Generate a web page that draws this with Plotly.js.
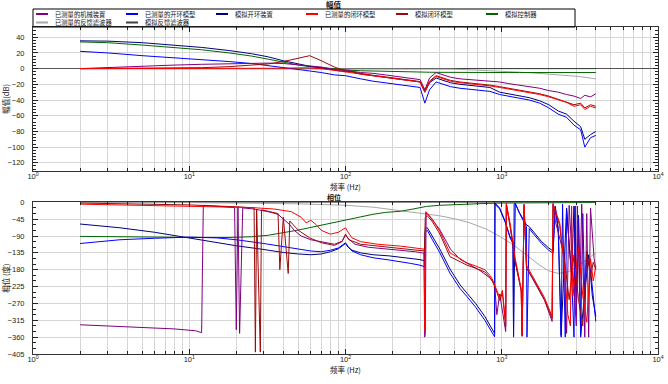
<!DOCTYPE html>
<html>
<head>
<meta charset="utf-8">
<script src="https://cdn.plot.ly/plotly-3.0.1.min.js"></script>
<style>
html,body{margin:0;padding:0;background:#fff;}
#chart{width:668px;height:384px;}
</style>
</head>
<body>
<div id="chart"></div>
<script>
// ---------- data ----------
const legendLabels = ["已测量的机械装置", "已测量的开环模型", "模拟开环装置", "已测量的闭环模型", "模拟闭环模型", "模拟控制器", "已测量的反馈滤波器", "模拟反馈滤波器"];
const seriesColors = ["#800080", "#0000ff", "#000080", "#ff0000", "#9b0a0a", "#006400", "#a8a8a8", "#404040"];
const magTitle = "幅值";
const phaseTitle = "相位";
const xTitle = "频率 (Hz)";
const magYTitle = "幅值(dB)";
const phaseYTitle = "相位 (度)";
const decadeTicks = [1, 10, 100, 1000, 10000];
const decadeTickText = ["10<sup>0</sup>", "10<sup>1</sup>", "10<sup>2</sup>", "10<sup>3</sup>", "10<sup>4</sup>"];
const magTicks = [-120, -100, -80, -60, -40, -20, 0, 20, 40];
const phaseTicks = [0, -45, -90, -135, -180, -225, -270, -315, -360, -405];

// magnitude (dB)
const magFreq = [2, 3, 5, 8, 12, 18, 25, 32, 40, 50, 59, 70, 85, 100, 107, 125, 150, 180, 220, 260, 300, 322, 345, 380, 420, 470, 540, 620, 720, 840, 970, 1100, 1300, 1500, 1750, 2000, 2300, 2600, 2900, 3200, 3400, 3700, 4000];
const magMeasPlant = [0, 1.5, 3, 4.5, 5.5, 6.5, 7, 7, 6.5, 5, 3.5, 2, -1, -2, -3, -5, -6, -8, -10, -12, -14, -27, -12, -5, -8, -11, -13, -14, -15, -16, -17, -19, -21, -23, -25, -28, -30, -33, -35, -38, -34, -36, -32];
const magMeasOpen = [22, 20, 16.5, 14, 12, 9, 6.5, 4, 1.5, -1, -3, -5, -8, -9, -10, -13, -16, -18, -20, -22, -24, -44, -27, -17, -20, -23, -25, -26, -27, -29, -33, -35, -38, -40, -44, -50, -58, -62, -72, -78, -100, -88, -85];
const magModelOpen = [35.4, 35, 33, 30, 27, 23, 19, 15, 10, 6, 3, 1, -2, -4, -3, -7, -9, -11, -13, -15, -17, -30, -18, -12, -15, -18, -20, -21, -22, -24, -30, -32, -35, -37, -41, -46, -54, -58, -67, -74, -90, -84, -80];
const magMeasClosed = [0, 0, 0, 0, 0, 0, 0, 0, 0.5, 1, 1, 0, -2, -4, -5, -7, -9, -11, -13, -15, -17, -30, -17, -10, -13, -16, -18, -19, -20, -22, -24, -26, -28, -30, -33, -36, -40, -43, -48, -46, -52, -48, -50];
const magModelClosed = [0, 0.1, 0.3, 0.6, 1.2, 2.5, 4, 6, 9, 13, 16.5, 10, 2, -3, -4, -6.5, -8.5, -10.5, -12.5, -14.5, -16.5, -28, -16, -9, -12, -15, -17, -18, -19.5, -21, -23, -25, -27, -29, -32, -35, -39, -42, -46, -44, -50, -46, -48];
const magController = [34, 33, 30, 27, 24, 20, 16, 12, 8, 4.5, 2.5, 1, -0.5, -1.5, -2, -2.7, -3.2, -3.6, -4, -4.2, -4.4, -4.5, -4.6, -4.7, -4.8, -4.9, -5, -5, -5, -5, -5, -5, -5, -5, -5, -5, -5, -5, -5, -5, -5, -5, -5];
const magMeasFilter = [0, 0, 0, 0, 0, 0, 0, 0, 0, 0, 0, 0, 0, 0, 0, 0, 0, 0, 0, 0, 0, -0.2, -0.3, -0.4, -0.5, -0.7, -1, -1.4, -2, -2.5, -3, -3.6, -4.5, -5.2, -6, -7, -8, -8.8, -9.5, -10.3, -11, -12, -13];
const magModelFilter = [0, 0, 0, 0, 0, 0, 0, 0, 0, 0, 0, 0, 0, 0, 0, 0, 0, 0, 0, 0, 0, 0, 0, 0, 0, 0, 0, 0, 0, 0, 0, 0, 0, 0, 0, 0, 0, 0, 0, 0, 0, 0, 0];

// phase (deg)
const phMeasPlantFreq = [2, 3, 5, 8, 11, 12, 12.3, 14, 17, 19.5, 20, 20.5, 21, 22, 26, 32, 37, 44, 47, 52, 60, 70, 85, 95, 100, 105, 115, 140, 180, 225, 280, 318, 321, 324, 328, 340, 400, 470, 540, 625, 725, 840, 900, 930, 970, 1010, 1060, 1070, 1130, 1220, 1280, 1340, 1350, 1390, 1440, 1620, 1880, 2100, 2130, 2200, 2400, 2500, 2600, 2700, 2850, 3000, 3050, 3150, 3250, 3400, 3500, 3600, 3700, 3800, 3900, 4000];
const phMeasPlant = [-327, -330, -334, -338, -343, -348, -8, -10, -12, -14, -340, -12, -350, -15, -18, -25, -32, -60, -75, -90, -100, -106, -112, -104, -88, -98, -112, -120, -124, -128, -132, -136, -360, -352, -28, -34, -72, -125, -152, -166, -182, -202, -218, -300, -245, -290, -345, -3, -62, -160, -205, -240, -358, -5, -175, -212, -262, -318, -3, -50, -110, -140, -350, -8, -180, -330, -10, -250, -5, -360, -30, -360, -15, -100, -150, -178];

const phMeasOpenFreq = [2, 3.6, 6, 10, 15, 20, 30, 40, 50, 60, 70, 80, 90, 97, 100, 104, 110, 125, 150, 190, 225, 260, 300, 320, 324, 334, 360, 402, 466, 540, 600, 680, 780, 850, 900, 905, 970, 1050, 1130, 1180, 1190, 1200, 1220, 1300, 1400, 1440, 1450, 1500, 1600, 1800, 2000, 2130, 2200, 2300, 2400, 2450, 2500, 2550, 2600, 2700, 2800, 2900, 2950, 3000, 3100, 3200, 3300, 3400, 3500, 3700, 3850, 4000];
const phMeasOpen = [-110, -100, -96, -93, -95, -100, -110, -118, -125, -130, -132, -128, -122, -112, -108, -118, -130, -140, -148, -154, -158, -163, -168, -172, -78, -75, -100, -135, -189, -230, -252, -280, -315, -340, -359, -2, -15, -50, -95, -110, -360, -5, -3, -30, -58, -65, -360, -70, -85, -110, -128, -136, -10, -80, -360, -5, -200, -360, -20, -120, -200, -360, -10, -300, -40, -360, -30, -250, -150, -180, -260, -318];

const phModelOpenFreq = [2, 3.6, 6, 10, 15, 20, 30, 40, 50, 60, 70, 80, 90, 97, 100, 104, 110, 125, 150, 190, 225, 260, 300, 320, 324, 334, 360, 402, 466, 540, 600, 680, 780, 850, 900, 905, 970, 1050, 1130, 1180, 1190, 1220, 1300, 1400, 1440, 1500, 1600, 1800, 2000, 2130, 2200, 2300, 2400, 2500, 2600, 2700, 2800, 2900, 3000, 3100, 3200, 3400, 3600, 3800, 4000];
const phModelOpen = [-58, -68, -80, -96, -108, -116, -126, -134, -138, -140, -138, -132, -124, -114, -110, -120, -128, -135, -140, -143, -146, -150, -153, -156, -70, -68, -90, -125, -178, -220, -243, -270, -305, -330, -350, -5, -18, -52, -92, -105, -355, -3, -28, -52, -60, -65, -80, -105, -122, -130, -12, -70, -355, -190, -15, -110, -190, -10, -290, -35, -355, -240, -140, -250, -305];

const phMeasClosedFreq = [2, 4, 8, 15, 25, 35, 45, 52, 56, 60, 65, 70, 80, 90, 97, 100, 104, 110, 125, 160, 225, 300, 318, 322, 326, 334, 360, 402, 466, 540, 600, 680, 780, 840, 870, 930, 970, 1010, 1060, 1070, 1130, 1220, 1275, 1330, 1350, 1390, 1440, 1620, 1880, 2100, 2130, 2350, 2400, 2500, 2650, 2750, 2800, 2850, 2950, 3100, 3300, 3500, 3700, 3850, 4000];
const phMeasClosed = [-5, -7, -9, -11, -14, -18, -25, -40, -55, -48, -60, -75, -85, -80, -72, -68, -80, -95, -105, -112, -117, -122, -125, -345, -25, -30, -45, -78, -135, -150, -162, -170, -180, -195, -205, -235, -255, -235, -325, -5, -55, -150, -195, -230, -350, -8, -168, -205, -255, -305, -5, -55, -95, -160, -300, -330, -10, -250, -200, -120, -250, -320, -150, -210, -170];

const phModelClosedFreq = [2, 5, 10, 20, 26, 26.5, 27, 28.5, 29, 37, 38, 40, 43, 44, 50, 59, 70, 85, 95, 100, 105, 125, 225, 300, 320, 324, 334, 360, 402, 466, 540, 600, 680, 780, 840, 870, 930, 970, 1010, 1060, 1070, 1130, 1220, 1275, 1330, 1350, 1390, 1440, 1620, 1880, 2100, 2130, 2350, 2400, 2550, 2700, 2900, 3100, 3300, 3500, 3700, 3850, 4000];
const phModelClosed = [-2, -4, -7, -12, -15, -400, -18, -400, -20, -30, -180, -40, -190, -50, -75, -95, -108, -115, -105, -85, -100, -112, -122, -127, -130, -40, -36, -52, -85, -145, -158, -168, -176, -186, -200, -210, -240, -262, -242, -332, -8, -62, -158, -200, -235, -355, -12, -175, -210, -260, -310, -8, -62, -100, -170, -260, -140, -260, -330, -130, -200, -160, -180];

const phControllerFreq = [2, 3, 5, 8, 12, 18, 25, 32, 40, 50, 60, 70, 85, 100, 125, 150, 180, 225, 270, 330, 400, 500, 650, 800, 1000, 1300, 1700, 2200, 3000, 4000];
const phController = [-91, -92, -93, -94, -94, -94, -92, -88, -82, -74, -67, -61, -53, -46, -38, -32, -27, -24, -18, -11, -8, -6, -4, -3, -2, -1.5, -1, -1, -0.5, -0.5];

const phMeasFilterFreq = [2, 10, 50, 100, 150, 225, 300, 400, 500, 627, 800, 980, 1200, 1520, 1750, 2000, 2300, 2700, 3200, 3700, 4000];
const phMeasFilter = [0, -1, -4, -8, -13, -22, -28, -36, -44, -55, -72, -92, -115, -148, -168, -183, -190, -185, -165, -145, -135];

const phModelFilterFreq = [2, 4000];
const phModelFilter = [0, 0];

// ---------- build ----------
const magSets = [magMeasPlant, magMeasOpen, magModelOpen, magMeasClosed, magModelClosed, magController, magMeasFilter, magModelFilter];
const phSets = [
  [phMeasPlantFreq, phMeasPlant], [phMeasOpenFreq, phMeasOpen], [phModelOpenFreq, phModelOpen],
  [phMeasClosedFreq, phMeasClosed], [phModelClosedFreq, phModelClosed], [phControllerFreq, phController],
  [phMeasFilterFreq, phMeasFilter], [phModelFilterFreq, phModelFilter]
];
const order = [7, 6, 5, 2, 1, 0, 4, 3];
const traces = [];
order.forEach(i => {
  traces.push({x: magFreq, y: magSets[i], xaxis: 'x', yaxis: 'y', type: 'scatter', mode: 'lines',
    name: legendLabels[i], showlegend: false, line: {color: seriesColors[i], width: 1}});
});
order.forEach(i => {
  traces.push({x: phSets[i][0], y: phSets[i][1], xaxis: 'x2', yaxis: 'y2', type: 'scatter', mode: 'lines',
    name: legendLabels[i], showlegend: false, line: {color: seriesColors[i], width: 1}});
});

const L = 33, R = 658, T = 27, B = 354, W = 668, H = 384;
const px = v => (v - L) / (R - L);
const py = v => (B - v) / (B - T);

const minorVals = [];
for (let d = 1; d <= 1000; d *= 10) for (let k = 2; k <= 9; k++) minorVals.push(k * d);

const tickFont = {family: 'Liberation Sans, Arial, sans-serif', size: 7.5, color: '#222'};
const cjk = 'Noto Sans CJK SC, sans-serif';
const gridC = '#d6d6d6';

function xAxis(anchor) {
  return {
    type: 'log', range: [0, 4], anchor: anchor,
    tickmode: 'array', tickvals: decadeTicks, ticktext: decadeTickText,
    ticks: 'inside', ticklen: 5, tickcolor: '#222', ticklabelstandoff: -2,
    showline: true, linecolor: '#333', linewidth: 1, mirror: 'ticks',
    showgrid: true, gridcolor: gridC, gridwidth: 1,
    minor: {tickmode: 'array', tickvals: minorVals, ticks: 'inside', ticklen: 3, tickcolor: '#222', showgrid: true, gridcolor: gridC, gridwidth: 1},
    tickfont: tickFont, zeroline: false,
    title: {text: xTitle, font: {family: cjk, size: 7.5, color: '#111'}, standoff: 0},
    automargin: false
  };
}
function yAxis(domain, range, tickvals, minorDtick, title, zero, anchor) {
  return {
    domain: domain, range: range, anchor: anchor,
    tickmode: 'array', tickvals: tickvals,
    ticks: 'inside', ticklen: 5, tickcolor: '#222', ticklabelstandoff: 6,
    showline: true, linecolor: '#333', linewidth: 1, mirror: 'ticks',
    showgrid: true, gridcolor: gridC, gridwidth: 1,
    minor: {dtick: minorDtick, ticks: 'inside', ticklen: 3, tickcolor: '#222', showgrid: false},
    zeroline: zero, zerolinecolor: '#555', zerolinewidth: 1,
    tickfont: tickFont,
    title: {text: title, font: {family: cjk, size: 7.5, color: '#111'}, standoff: 2},
    automargin: false
  };
}

const shapes = [];
const annotations = [];
// legend box
shapes.push({type: 'rect', xref: 'paper', yref: 'paper', x0: px(33), x1: px(575), y0: py(27), y1: py(9),
  line: {color: '#000', width: 1}, fillcolor: 'rgba(0,0,0,0)'});
legendLabels.forEach((lab, i) => {
  const col = i % 6, row = Math.floor(i / 6);
  const x0 = 36 + 90 * col, yy = 14 + 8.5 * row;
  shapes.push({type: 'line', xref: 'paper', yref: 'paper', x0: px(x0), x1: px(x0 + 12), y0: py(yy), y1: py(yy),
    line: {color: seriesColors[i], width: 2}});
  annotations.push({xref: 'paper', yref: 'paper', x: px(x0 + 17), y: py(yy), xanchor: 'left', yanchor: 'middle',
    text: lab, showarrow: false, font: {family: cjk, size: 6.3, color: '#111'}});
});
annotations.push({xref: 'paper', yref: 'paper', x: px(334), y: py(4.5), xanchor: 'center', yanchor: 'middle',
  text: '<b>' + magTitle + '</b>', showarrow: false, font: {family: cjk, size: 7.5, color: '#111'}});
annotations.push({xref: 'paper', yref: 'paper', x: px(334), y: py(196.5), xanchor: 'center', yanchor: 'middle',
  text: '<b>' + phaseTitle + '</b>', showarrow: false, font: {family: cjk, size: 7, color: '#111'}});

const layout = {
  width: W, height: H,
  margin: {l: L, r: W - R, t: T, b: H - B, pad: 0},
  paper_bgcolor: '#fff', plot_bgcolor: '#fff',
  showlegend: false,
  xaxis: xAxis('y'),
  yaxis: yAxis([py(170.7), 1], [-130, 53], magTicks, 4, magYTitle, true, 'x'),
  xaxis2: xAxis('y2'),
  yaxis2: yAxis([0, py(202.3)], [-405, 0], phaseTicks, 15, phaseYTitle, false, 'x2'),
  shapes: shapes, annotations: annotations,
  font: {family: 'Liberation Sans, Arial, sans-serif', size: 8}
};

Plotly.newPlot('chart', traces, layout, {staticPlot: true, displayModeBar: false});
</script>
</body>
</html>
